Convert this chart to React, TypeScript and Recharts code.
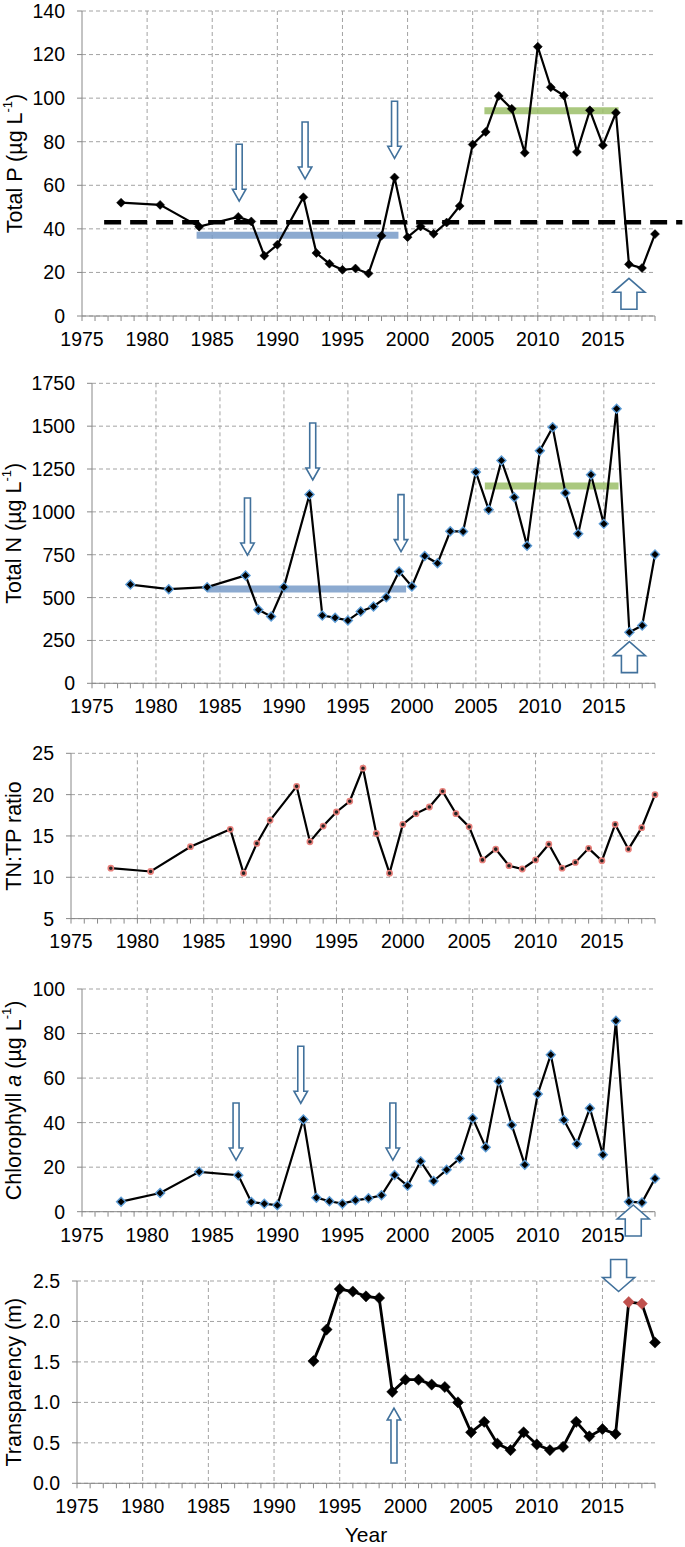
import React from "react";
import {
  LineChart,
  Line,
  XAxis,
  YAxis,
  CartesianGrid,
  ReferenceLine,
  ReferenceDot,
  Label,
} from "recharts";

// sampling years shared by TP, TN, TN:TP and Chl a
const sampleYears = [
  1978, 1981, 1984, 1987, 1988, 1989, 1990, 1992, 1993, 1994, 1995, 1996,
  1997, 1998, 1999, 2000, 2001, 2002, 2003, 2004, 2005, 2006, 2007, 2008,
  2009, 2010, 2011, 2012, 2013, 2014, 2015, 2016, 2017, 2018, 2019,
];
const totalP = [
  52, 51, 41, 45.5, 43.4, 27.7, 32.7, 54.5, 28.9, 24, 21.2, 21.8, 19.5, 36.8,
  63.6, 36.2, 41.1, 37.7, 42.9, 50.5, 78.7, 84.5, 101, 95.1, 74.9, 123.6, 105,
  101.2, 75.3, 94.4, 78.4, 93.3, 23.7, 22, 37.6,
];
const totalN = [
  576, 549, 561, 629, 429, 390, 561, 1101, 396, 382, 367, 419, 448, 502, 652,
  565, 743, 700, 887, 885, 1232, 1013, 1299, 1085, 803, 1357, 1493, 1110, 872,
  1217, 930, 1602, 298, 337, 751,
];
const tnTpRatio = [
  11.1, 10.7, 13.7, 15.8, 10.5, 14.1, 16.9, 21.0, 14.3, 16.2, 17.9, 19.2, 23.2,
  15.3, 10.5, 16.4, 17.7, 18.5, 20.4, 17.7, 16.1, 12.1, 13.4, 11.4, 11.0, 12.1,
  14.0, 11.1, 11.8, 13.5, 12.0, 16.4, 13.4, 16.0, 20.0,
];
const chlA = [
  4.5, 8.4, 17.9, 16.4, 4.4, 3.6, 2.9, 41.4, 6.3, 4.7, 3.6, 5.1, 6.0, 7.4, 16.5,
  11.6, 22.6, 13.8, 18.8, 23.9, 42.0, 28.9, 58.6, 38.9, 21.1, 52.9, 70.5, 41.2,
  30.4, 46.5, 25.6, 85.7, 4.5, 4.1, 14.9,
];

// transparency only measured since 1993
const clarityYears = [
  1993, 1994, 1995, 1996, 1997, 1998, 1999, 2000, 2001, 2002, 2003, 2004, 2005,
  2006, 2007, 2008, 2009, 2010, 2011, 2012, 2013, 2014, 2015, 2016, 2017, 2018,
  2019,
];
const transparency = [
  1.51, 1.9, 2.4, 2.37, 2.31, 2.29, 1.13, 1.28, 1.28, 1.22, 1.19, 1.0, 0.63,
  0.76, 0.49, 0.41, 0.63, 0.48, 0.41, 0.45, 0.76, 0.58, 0.67, 0.61, 2.24, 2.22,
  1.74,
];
const redYears = [2017, 2018];

// axis ticks
const majorYears = [1975, 1980, 1985, 1990, 1995, 2000, 2005, 2010, 2015];
const gridYears = majorYears.slice(1);
const minorYears = Array.from({ length: 45 }, (_, i) => 1975 + i);
const tpTicks = [0, 20, 40, 60, 80, 100, 120, 140];
const tnTicks = [0, 250, 500, 750, 1000, 1250, 1500, 1750];
const ratioTicks = [5, 10, 15, 20, 25];
const chlTicks = [0, 20, 40, 60, 80, 100];
const sdTicks = [0, 0.5, 1, 1.5, 2, 2.5];

// annotations (years / values)
const tpMeanLine = { from: 1976.7, to: 2021.1, value: 43 };
const tpBlueBar = { from: 1983.8, to: 1999.3, value: 37.1 };
const tpGreenBar = { from: 2005.9, to: 2016.2, value: 94.2 };
const tnBlueBar = { from: 1984.0, to: 1999.55, value: 550 };
const tnGreenBar = { from: 2005.7, to: 2016.15, value: 1151 };

const tpArrowsDown = [
  { year: 1987.07, tip: 52.7 },
  { year: 1992.13, tip: 62.9 },
  { year: 1999.0, tip: 72.4 },
];
const tpArrowsUp = [{ year: 2017.0, tip: 17.3 }];
const tnArrowsDown = [
  { year: 1987.15, tip: 748 },
  { year: 1992.25, tip: 1186 },
  { year: 1999.15, tip: 768 },
];
const tnArrowsUp = [{ year: 2017.0, tip: 243 }];
const chlArrowsDown = [
  { year: 1986.83, tip: 23.2 },
  { year: 1991.8, tip: 48.7 },
  { year: 1998.87, tip: 23.2 },
];
const chlArrowsUp = [{ year: 2017.33, tip: 3.0 }];
const sdArrowsUp = [{ year: 1999.13, tip: 0.93 }];
const sdArrowsDown = [{ year: 2016.23, tip: 2.37 }];

const FONT = '"Liberation Sans", Arial, sans-serif';
const ARROW = "#41719c";

const rows = sampleYears.map((year, i) => ({
  year,
  tp: totalP[i],
  tn: totalN[i],
  ratio: tnTpRatio[i],
  chl: chlA[i],
}));
const clarityRows = clarityYears.map((year, i) => ({
  year,
  sd: transparency[i],
}));

const arrowShape =
  (dir: "up" | "down", len: number, shaft: number, head: number, headH: number) =>
  (props: any) => {
    const { cx, cy } = props;
    if (cx == null || cy == null) return <g />;
    const d = dir === "down" ? -1 : 1;
    const pts = [
      [cx, cy],
      [cx + head / 2, cy + d * headH],
      [cx + shaft / 2, cy + d * headH],
      [cx + shaft / 2, cy + d * len],
      [cx - shaft / 2, cy + d * len],
      [cx - shaft / 2, cy + d * headH],
      [cx - head / 2, cy + d * headH],
    ];
    return (
      <polygon
        points={pts.map((p) => p.join(",")).join(" ")}
        fill="#fff"
        stroke={ARROW}
        strokeWidth={1.6}
      />
    );
  };

const narrowDown = arrowShape("down", 57, 6, 13.5, 12);
const narrowUp = arrowShape("up", 55, 6, 13.5, 12);
const wideDown = arrowShape("down", 32, 16, 32, 14);
const wideUp = arrowShape("up", 31, 16, 32, 14);

const diamond =
  (r: number, stroke: string, sw: number, pick?: (p: any) => string) =>
  (props: any) => {
    const { cx, cy, index, payload } = props;
    if (cx == null || cy == null) return <g key={index} />;
    const fill = pick ? pick(payload) : "#000";
    return (
      <path
        key={index}
        d={`M${cx},${cy - r}L${cx + r},${cy}L${cx},${cy + r}L${cx - r},${cy}Z`}
        fill={fill}
        stroke={pick ? fill : stroke}
        strokeWidth={sw}
      />
    );
  };

const redDot = (props: any) => {
  const { cx, cy, index } = props;
  if (cx == null || cy == null) return <g key={index} />;
  return (
    <circle
      key={index}
      cx={cx}
      cy={cy}
      r={2.6}
      fill="#222"
      stroke="#e8807b"
      strokeWidth={1.6}
    />
  );
};

const unit = (
  <>
    <tspan>(µg L</tspan>
    <tspan dy={-8} fontSize={13}>
      -1
    </tspan>
    <tspan dy={8}>)</tspan>
  </>
);

const bar = (b: { from: number; to: number; value: number }, color: string, key: string) => (
  <ReferenceLine
    key={key}
    segment={[
      { x: b.from, y: b.value },
      { x: b.to, y: b.value },
    ]}
    stroke={color}
    strokeWidth={7}
    ifOverflow="visible"
  />
);

const arrows = (list: { year: number; tip: number }[], shape: any, key: string) =>
  list.map((a, i) => (
    <ReferenceDot
      key={`${key}${i}`}
      x={a.year}
      y={a.tip}
      r={0}
      ifOverflow="visible"
      shape={shape}
    />
  ));

interface PanelProps {
  top: number;
  height: number;
  marginTop: number;
  plotHeight: number;
  axisX: number;
  data: any[];
  dataKey: string;
  yDomain: [number, number];
  yTicks: number[];
  tickFmt?: (v: number) => string;
  title: React.ReactNode;
  dot: any;
  strokeWidth?: number;
  xTitle?: boolean;
  children?: React.ReactNode;
}

function Panel({
  top,
  height,
  marginTop,
  plotHeight,
  axisX,
  data,
  dataKey,
  yDomain,
  yTicks,
  tickFmt,
  title,
  dot,
  strokeWidth = 2.2,
  xTitle,
  children,
}: PanelProps) {
  const xAxisHeight = height - marginTop - plotHeight;
  const cy = marginTop + plotHeight / 2;
  const tick = { fill: "#000", fontSize: 19.5, fontFamily: FONT };
  return (
    <div style={{ position: "absolute", left: 0, top, width: 685, height }}>
      <LineChart
        width={685}
        height={height}
        data={data}
        margin={{ top: marginTop, right: 30, bottom: 0, left: 0 }}
      >
        <CartesianGrid
          stroke="#a3a3a3"
          strokeDasharray="4 3"
          verticalValues={gridYears}
          horizontalValues={yTicks}
        />
        <XAxis
          dataKey="year"
          type="number"
          domain={[1975, 2019]}
          ticks={minorYears}
          interval={0}
          tickFormatter={(y: number) => (y % 5 === 0 ? String(y) : "")}
          height={xAxisHeight}
          tickSize={5}
          tickMargin={11}
          stroke="#888"
          tick={tick}
        >
          {xTitle && (
            <Label
              content={() => (
                <text
                  x={366}
                  y={284}
                  textAnchor="middle"
                  dominantBaseline="central"
                  fontSize={21}
                  fontFamily={FONT}
                  fill="#000"
                >
                  Year
                </text>
              )}
            />
          )}
        </XAxis>
        <YAxis
          type="number"
          domain={yDomain}
          ticks={yTicks}
          interval={0}
          width={axisX}
          tickSize={5}
          tickMargin={12}
          stroke="#888"
          tick={tick}
          tickFormatter={tickFmt}
        >
          <Label
            content={() => (
              <text
                x={14.5}
                y={cy}
                transform={`rotate(-90 14.5 ${cy})`}
                textAnchor="middle"
                dominantBaseline="central"
                fontSize={21.5}
                fontFamily={FONT}
                fill="#000"
              >
                {title}
              </text>
            )}
          />
        </YAxis>
        {children}
        <Line
          type="linear"
          dataKey={dataKey}
          stroke="#000"
          strokeWidth={strokeWidth}
          dot={dot}
          activeDot={false}
          isAnimationActive={false}
        />
      </LineChart>
    </div>
  );
}

export default function App() {
  return (
    <div
      style={{
        position: "absolute",
        left: 0,
        top: 0,
        width: 685,
        height: 1547,
        background: "#fff",
        fontFamily: FONT,
      }}
    >
      <Panel
        top={0}
        height={360}
        marginTop={11}
        plotHeight={305}
        axisX={82}
        data={rows}
        dataKey="tp"
        yDomain={[0, 140]}
        yTicks={tpTicks}
        title={<>
          <tspan>Total P </tspan>
          {unit}
        </>}
        dot={diamond(4.5, "#000", 0.5)}
      >
        {bar(tpBlueBar, "rgba(120,155,200,0.85)", "tpb")}
        {bar(tpGreenBar, "rgba(155,190,105,0.85)", "tpg")}
        <ReferenceLine
          segment={[
            { x: tpMeanLine.from, y: tpMeanLine.value },
            { x: tpMeanLine.to, y: tpMeanLine.value },
          ]}
          stroke="#000"
          strokeWidth={4.5}
          strokeDasharray="17 9"
          ifOverflow="visible"
        />
        {arrows(tpArrowsDown, narrowDown, "tpd")}
        {arrows(tpArrowsUp, wideUp, "tpu")}
      </Panel>

      <Panel
        top={360}
        height={370}
        marginTop={23.3}
        plotHeight={300}
        axisX={92}
        data={rows}
        dataKey="tn"
        yDomain={[0, 1750]}
        yTicks={tnTicks}
        title={<>
          <tspan>Total N </tspan>
          {unit}
        </>}
        dot={diamond(4.5, "#5b9bd5", 1.4)}
      >
        {bar(tnBlueBar, "rgba(120,155,200,0.85)", "tnb")}
        {bar(tnGreenBar, "rgba(155,190,105,0.85)", "tng")}
        {arrows(tnArrowsDown, narrowDown, "tnd")}
        {arrows(tnArrowsUp, wideUp, "tnu")}
      </Panel>

      <Panel
        top={730}
        height={230}
        marginTop={23.3}
        plotHeight={165.3}
        axisX={71}
        data={rows}
        dataKey="ratio"
        yDomain={[5, 25]}
        yTicks={ratioTicks}
        title="TN:TP ratio"
        dot={redDot}
      />

      <Panel
        top={960}
        height={290}
        marginTop={29}
        plotHeight={222.7}
        axisX={82}
        data={rows}
        dataKey="chl"
        yDomain={[0, 100]}
        yTicks={chlTicks}
        title={<>
          <tspan>Chlorophyll </tspan>
          <tspan fontStyle="italic">a</tspan>
          <tspan> </tspan>
          {unit}
        </>}
        dot={diamond(4.5, "#5b9bd5", 1.4)}
      >
        {arrows(chlArrowsDown, narrowDown, "chd")}
        {arrows(chlArrowsUp, wideUp, "chu")}
      </Panel>

      <Panel
        top={1250}
        height={297}
        marginTop={31}
        plotHeight={202.3}
        axisX={77}
        data={clarityRows}
        dataKey="sd"
        yDomain={[0, 2.5]}
        yTicks={sdTicks}
        tickFmt={(v: number) => v.toFixed(1)}
        title="Transparency (m)"
        dot={diamond(5.6, "#000", 0.5, (p: any) =>
          redYears.includes(p.year) ? "#c0504d" : "#000"
        )}
        strokeWidth={2.8}
        xTitle
      >
        {arrows(sdArrowsUp, narrowUp, "sdu")}
        {arrows(sdArrowsDown, wideDown, "sdd")}
      </Panel>
    </div>
  );
}
